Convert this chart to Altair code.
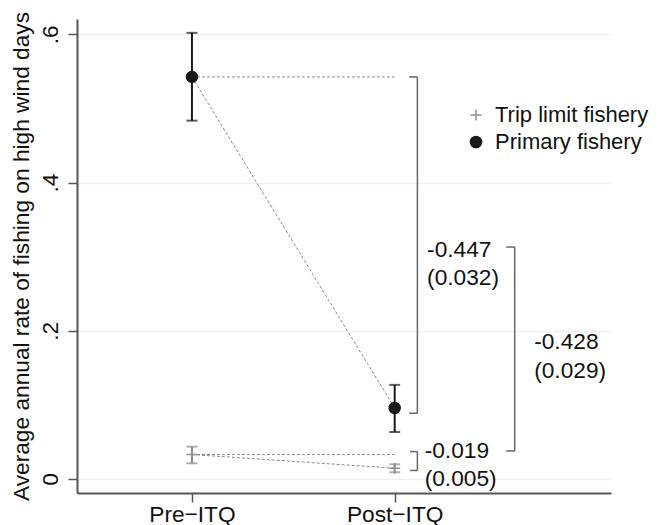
import altair as alt
import pandas as pd

# ---- data ----
periods = ["Pre−ITQ", "Post−ITQ"]
period_x = [1, 2]
series = ["Trip limit fishery", "Primary fishery"]

trip_mean = [0.033, 0.0145]
trip_lo = [0.0212, 0.0091]
trip_hi = [0.0436, 0.0198]

prim_mean = [0.5425, 0.0958]
prim_lo = [0.4835, 0.0634]
prim_hi = [0.602, 0.127]

y_ticks = [0, 0.2, 0.4, 0.6]
y_tick_labels = ["0", ".2", ".4", ".6"]

# difference annotations (brackets + text)
bracket_x = [2.112, 2.592, 2.112]
bracket_tick_x = [2.071, 2.55, 2.075]
bracket_top = [0.5425, 0.313, 0.037]
bracket_bottom = [0.0887, 0.0378, 0.0115]

diff_text = ["-0.447", "(0.032)", "-0.428", "(0.029)", "-0.019", "(0.005)"]
diff_text_x = [2.16, 2.16, 2.688, 2.688, 2.148, 2.148]
diff_text_y = [0.309, 0.271, 0.1853, 0.146, 0.0382, 0.0]

FONT = "Liberation Sans"
FS = 22.7
GREY = "#8f8f8f"
BLACK = "#1a1a1a"
PLUS = "M-1,0L1,0M0,-1L0,1"

# ---- tables ----
rows = []
for s, m, lo, hi in [(series[0], trip_mean, trip_lo, trip_hi),
                     (series[1], prim_mean, prim_lo, prim_hi)]:
    for i, px in enumerate(period_x):
        rows.append({"series": s, "x": px, "y": m[i], "lo": lo[i], "hi": hi[i]})
pts = pd.DataFrame(rows)

conn = []
for s, m in [(series[0], trip_mean), (series[1], prim_mean)]:
    conn += [{"g": s + "h", "x": period_x[0], "y": m[0]},
             {"g": s + "h", "x": period_x[1], "y": m[0]},
             {"g": s + "d", "x": period_x[0], "y": m[0]},
             {"g": s + "d", "x": period_x[1], "y": m[1]}]
conn = pd.DataFrame(conn)

br_v = pd.DataFrame({"x": bracket_x, "y": bracket_top, "y2": bracket_bottom})
br_h = pd.DataFrame({
    "x": bracket_tick_x + bracket_tick_x,
    "x2": bracket_x + bracket_x,
    "y": bracket_top + bracket_bottom,
})
txt = pd.DataFrame({"x": diff_text_x, "y": diff_text_y, "t": diff_text})

# ---- scales / axes ----
xs = alt.Scale(domain=[0.433, 3.067], nice=False, zero=False)
ys = alt.Scale(domain=[-0.0189, 0.6207], nice=False, zero=False)

x_expr = " : ".join(
    [f"datum.value == {v} ? '{l}'" for v, l in zip(period_x[:-1], periods[:-1])]
    + [f"'{periods[-1]}'"])
y_expr = " : ".join(
    [f"abs(datum.value - {v}) < 1e-6 ? '{l}'" for v, l in zip(y_ticks[:-1], y_tick_labels[:-1])]
    + [f"'{y_tick_labels[-1]}'"])

xaxis = alt.Axis(values=period_x, labelExpr=x_expr, title=None, grid=False,
                 tickSize=9, tickWidth=1.5, tickColor="#555555",
                 domainColor="#555555", domainWidth=2,
                 labelFont=FONT, labelFontSize=FS, labelColor="#111111",
                 labelPadding=1, labelBaseline="top")
yaxis = alt.Axis(values=y_ticks, labelExpr=y_expr,
                 title="Average annual rate of fishing on high wind days",
                 grid=True, gridColor="#eeeeee", gridWidth=1.5,
                 tickSize=9, tickWidth=1.5, tickColor="#555555",
                 domainColor="#555555", domainWidth=2,
                 labelFont=FONT, labelFontSize=FS, labelColor="#111111",
                 labelAngle=270, labelAlign="center", labelBaseline="alphabetic",
                 labelPadding=11,
                 titleFont=FONT, titleFontSize=FS, titleFontWeight="normal",
                 titleColor="#111111", titleAngle=270, titleX=-56, titleY=237,
                 titleAlign="center", titleBaseline="middle")

X = alt.X("x:Q", scale=xs, axis=xaxis)
Y = alt.Y("y:Q", scale=ys, axis=yaxis)

col_scale = alt.Scale(domain=series, range=[GREY, BLACK])
shape_scale = alt.Scale(domain=series, range=[PLUS, "circle"])
fill_scale = alt.Scale(domain=series, range=["transparent", BLACK])
legend = alt.Legend(orient="none", legendX=388, legendY=85, title=None,
                    labelFont=FONT, labelFontSize=22, labelColor="#111111",
                    symbolSize=125, symbolStrokeWidth=1.5, symbolOpacity=1,
                    labelOffset=8, rowPadding=5)
COLOR = alt.Color("series:N", scale=col_scale, legend=legend)

# ---- layers ----
ci_rule = alt.Chart(pts).mark_rule(strokeWidth=2).encode(
    x=X, y=alt.Y("lo:Q", scale=ys), y2="hi:Q", color=COLOR)

cap_lo = alt.Chart(pts).mark_tick(orient="horizontal", thickness=2, size=11).encode(
    x=X, y=alt.Y("lo:Q", scale=ys), color=COLOR)
cap_hi = alt.Chart(pts).mark_tick(orient="horizontal", thickness=2, size=11).encode(
    x=X, y=alt.Y("hi:Q", scale=ys), color=COLOR)

points = alt.Chart(pts).mark_point(filled=False, size=120, strokeWidth=1.5, opacity=1).encode(
    x=X, y=Y,
    color=COLOR,
    shape=alt.Shape("series:N", scale=shape_scale, legend=legend),
    fill=alt.Fill("series:N", scale=fill_scale, legend=legend),
)

lines = alt.Chart(conn).mark_line(strokeWidth=1, strokeDash=[3, 2], color="#8a8a8a").encode(
    x=X, y=Y, detail="g:N")

bv = alt.Chart(br_v).mark_rule(strokeWidth=1.5, color="#666666").encode(
    x=X, y=alt.Y("y:Q", scale=ys), y2="y2:Q")
bh = alt.Chart(br_h).mark_rule(strokeWidth=1.5, color="#666666").encode(
    x=X, x2="x2:Q", y=alt.Y("y:Q", scale=ys))

texts = alt.Chart(txt).mark_text(align="left", baseline="middle", font=FONT,
                                  fontSize=FS, color="#111111").encode(
    x=X, y=Y, text="t:N")

chart = alt.layer(ci_rule, cap_lo, cap_hi, lines, points, bv, bh, texts).properties(
    width=534, height=474,
    autosize=alt.AutoSizeParams(type="none"),
    padding={"left": 69, "top": 11, "right": 40, "bottom": 32},
).configure_view(stroke=None)

chart.save("out.html", embed_options={"renderer": "svg", "actions": False})
